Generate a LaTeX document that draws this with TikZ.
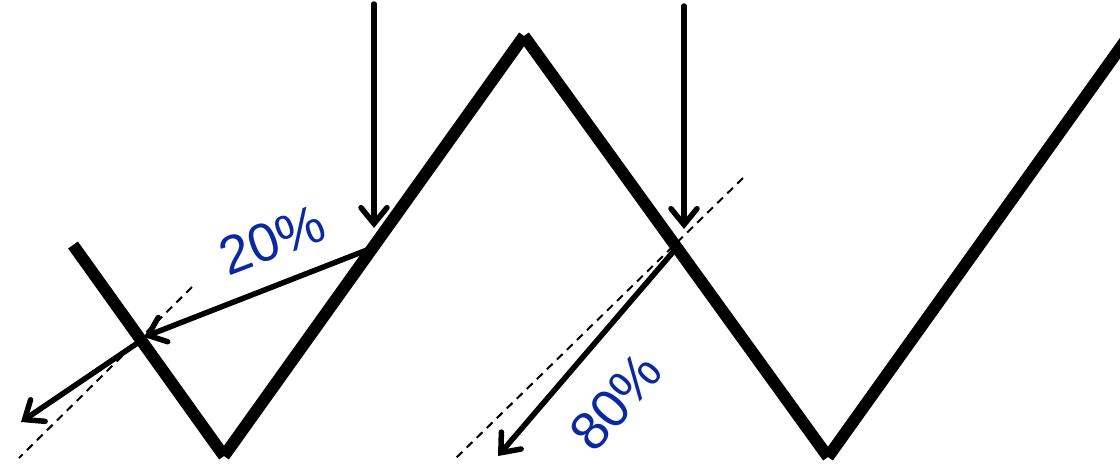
\documentclass[tikz,border=0pt]{standalone}
\usepackage{fontspec}
\setmainfont{Liberation Sans}
\usetikzlibrary{arrows.meta}
\definecolor{lblue}{RGB}{10,40,160}
\begin{document}
\begin{tikzpicture}[x=1pt,y=-1pt,
  wall/.style={line width=12pt,line cap=butt},
  ray/.style={line width=5.5pt,line cap=round,-{Straight Barb[length=16pt,width=26pt,line width=5.5pt,line cap=round]}},
  guide/.style={line width=2pt,dash pattern=on 8pt off 6pt},
  pct/.style={text=lblue,font=\fontsize{54}{54}\selectfont,inner sep=0pt}]
\useasboundingbox (0,0) rectangle (1120,466);
% zigzag vertices
\coordinate (z0) at (73,245);
\coordinate (z1) at (224,456);
\coordinate (z2) at (524,36);
\coordinate (z3) at (828,457);
\coordinate (z4) at (1128,37);
\draw[wall] (z0) -- (z1);
\draw[wall] (z1) -- (z2);
\draw[wall] (z2) -- (z3);
\draw[wall] (z3) -- (z4);
% dashed guides
\coordinate (d1a) at (192,287);
\coordinate (d1b) at (19,458);
\coordinate (d2a) at (743,178);
\coordinate (d2b) at (455,459);
\draw[guide] (d1a) -- (d1b);
\draw[guide] (d2a) -- (d2b);
% incoming rays
\coordinate (s1) at (374,4);
\coordinate (t1) at (374,228);
\coordinate (s2) at (684,6);
\coordinate (t2) at (684,229);
\draw[ray] (s1) -- (t1);
\draw[ray] (s2) -- (t2);
% reflected rays
\coordinate (r1s) at (367,250);
\coordinate (r1t) at (144,337);
\coordinate (r2s) at (139,342);
\coordinate (r2t) at (21,422);
\coordinate (r3s) at (673,252);
\coordinate (r3t) at (498,456);
\draw[ray] (r1s) -- (r1t);
\draw[ray] (r2s) -- (r2t);
\draw[ray] (r3s) -- (r3t);
% labels
\node[pct,rotate=21] (l20) at (272,240) {20\%};
\node[pct,rotate=49] (l80) at (616,402) {80\%};
\end{tikzpicture}
\end{document}
